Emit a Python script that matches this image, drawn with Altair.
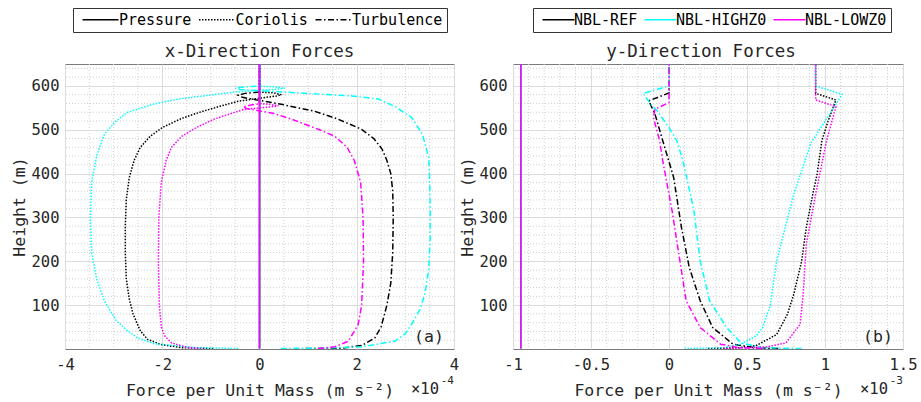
import altair as alt
import pandas as pd

FONT = "DejaVu Sans Mono"
TXT = "#262626"
MAJOR_COL = "#dcdcdc"
MINOR_COL = "#cfcfcf"
BOX = "#7a7a7a"

CASES = ["NBL-REF", "NBL-HIGHZ0", "NBL-LOWZ0"]
CASE_COLORS = ["#000000", "#00FFFF", "#FF00FF"]
FORCES = ["Pressure", "Coriolis", "Turbulence"]
FORCE_DASH = [[1, 0], [1.5, 1.5], [6, 2.5, 1.5, 2.5]]

# ---------- x-direction forces (units 1e-4 m s^-2) ----------
X_PRES_V = [0.0, 0.0]
X_PRES_Z = [1, 650]

X_COR_REF_V = [-0.95, -1.6, -2.02, -2.3, -2.45, -2.6, -2.68, -2.74, -2.76, -2.76, -2.74, -2.68, -2.58,
               -2.45, -2.25, -2.0, -1.6, -1.2, -0.8, -0.44, 0.0, 0.35, 0.45, 0.3, 0.0, 0.0]
X_COR_REF_Z = [1, 3, 10, 22, 41, 80, 115, 160, 220, 280, 340, 390, 430,
               460, 485, 505, 526, 541, 554, 565, 572, 577, 580, 584, 586, 650]
X_TURB_REF_V = [0.95, 1.69, 2.1, 2.37, 2.5, 2.62, 2.7, 2.74, 2.75, 2.74, 2.7, 2.62, 2.52,
                2.35, 2.1, 1.6, 1.14, 0.45, 0.0, -0.35, -0.44, -0.3, 0.0, 0.0]
X_TURB_REF_Z = [1, 2, 8, 25, 50, 100, 150, 220, 300, 360, 400, 430, 456,
                480, 501, 525, 542, 558, 567, 574, 579, 583, 586, 650]

X_COR_HIGH_V = [-0.44, -1.3, -2.16, -2.5, -2.71, -2.95, -3.19, -3.35, -3.45, -3.48, -3.45, -3.35, -3.19,
                -2.95, -2.71, -2.2, -1.68, -1.1, -0.51, 0.0, 0.4, 0.52, 0.3, 0.0, 0.0]
X_COR_HIGH_Z = [1, 3, 12, 25, 41, 65, 110, 160, 220, 300, 380, 440, 490,
                520, 540, 558, 570, 578, 586, 590, 593, 595, 598, 599.5, 650]
X_TURB_HIGH_V = [0.44, 1.3, 2.1, 2.79, 3.0, 3.13, 3.3, 3.4, 3.48, 3.51, 3.51, 3.5, 3.48,
                 3.35, 3.13, 2.8, 2.45, 1.9, 1.28, 0.52, 0.0, -0.4, -0.5, -0.3, 0.0, 0.0]
X_TURB_HIGH_Z = [1, 2, 5, 18, 35, 57, 90, 125, 180, 250, 320, 380, 437,
                 490, 528, 552, 570, 577, 581, 586, 589, 592, 595, 598, 599.5, 650]

X_COR_LOW_V = [-1.2, -1.5, -1.81, -1.95, -2.02, -2.06, -2.08, -2.07, -2.02, -1.92, -1.81,
               -1.6, -1.3, -0.92, -0.5, -0.34, 0.0, 0.3, 0.39, 0.2, 0.0, 0.0]
X_COR_LOW_Z = [1, 4, 14, 30, 50, 100, 200, 300, 380, 430, 460,
               485, 505, 525, 540, 546, 550, 553, 555, 558, 559.5, 650]
X_TURB_LOW_V = [1.2, 1.55, 1.83, 2.03, 2.1, 2.14, 2.13, 2.08, 1.95, 1.8, 1.55,
                1.28, 0.95, 0.66, 0.3, 0.0, -0.25, -0.34, -0.2, 0.0, 0.0]
X_TURB_LOW_Z = [1, 5, 18, 56, 100, 200, 300, 380, 430, 460, 485,
                498, 512, 524, 537, 543, 548, 552, 556, 559.5, 650]

# ---------- y-direction forces (units 1e-3 m s^-2) ----------
Y_PRES_V = [-0.95, -0.95]
Y_PRES_Z = [1, 650]

Y_COR_REF_V = [0.25, 0.45, 0.56, 0.69, 0.76, 0.8, 0.85, 0.88, 0.92, 0.95, 0.98, 1.02, 1.07, 0.94, 0.94]
Y_COR_REF_Z = [1, 3, 8, 33, 80, 125, 200, 277, 350, 400, 475, 520, 568, 583, 650]
Y_COR_HIGH_V = [0.1, 0.35, 0.46, 0.56, 0.6, 0.65, 0.69, 0.8, 0.91, 1.05, 1.11, 0.94, 0.94]
Y_COR_HIGH_Z = [1, 3, 11, 30, 49, 100, 201, 353, 470, 547, 581, 600, 650]
Y_COR_LOW_V = [0.35, 0.5, 0.63, 0.75, 0.84, 0.86, 0.88, 0.94, 1.01, 1.07, 0.94, 0.94]
Y_COR_LOW_Z = [1, 3, 5, 14, 56, 125, 239, 353, 475, 553, 568, 650]

Y_TURB_REF_V = [0.7, 0.55, 0.41, 0.28, 0.2, 0.13, 0.08, 0.03, -0.04, -0.09, -0.13, 0.0, 0.0]
Y_TURB_REF_Z = [1, 3, 11, 49, 110, 186, 277, 391, 475, 536, 566, 584, 650]
Y_TURB_HIGH_V = [0.85, 0.6, 0.46, 0.37, 0.26, 0.2, 0.16, 0.09, 0.05, 0.0, -0.08, -0.12, -0.165, 0.0, 0.0]
Y_TURB_HIGH_Z = [1, 3, 14, 49, 110, 201, 315, 429, 475, 505, 545, 559, 583, 600, 650]
Y_TURB_LOW_V = [0.6, 0.45, 0.33, 0.2, 0.11, 0.07, 0.02, -0.04, -0.06, -0.1, -0.09, 0.0, 0.0]
Y_TURB_LOW_Z = [1, 3, 11, 49, 110, 201, 315, 429, 475, 528, 547, 562, 650]

# ---------- axes ----------
Y_MAJOR = [100, 200, 300, 400, 500, 600]
Y_MINOR = [z for z in range(20, 650, 20) if z % 100]
XA_MAJOR = [-4, -2, 0, 2, 4]
XA_MINOR = [k * 0.5 for k in range(-8, 9) if k % 4]
XB_MAJOR = [-1, -0.5, 0, 0.5, 1, 1.5]
XB_MINOR = [round(k * 0.1, 1) for k in range(-10, 16) if k % 5]


def build(series):
    rows = []
    for case, force, vals, zs in series:
        for i, (v, z) in enumerate(zip(vals, zs)):
            rows.append({"case": case, "force": force, "val": v, "z": z, "idx": i})
    return pd.DataFrame(rows)


df_x = build([
    ("NBL-REF", "Pressure", X_PRES_V, X_PRES_Z),
    ("NBL-REF", "Coriolis", X_COR_REF_V, X_COR_REF_Z),
    ("NBL-REF", "Turbulence", X_TURB_REF_V, X_TURB_REF_Z),
    ("NBL-HIGHZ0", "Pressure", X_PRES_V, X_PRES_Z),
    ("NBL-HIGHZ0", "Coriolis", X_COR_HIGH_V, X_COR_HIGH_Z),
    ("NBL-HIGHZ0", "Turbulence", X_TURB_HIGH_V, X_TURB_HIGH_Z),
    ("NBL-LOWZ0", "Pressure", X_PRES_V, X_PRES_Z),
    ("NBL-LOWZ0", "Coriolis", X_COR_LOW_V, X_COR_LOW_Z),
    ("NBL-LOWZ0", "Turbulence", X_TURB_LOW_V, X_TURB_LOW_Z),
])
df_y = build([
    ("NBL-REF", "Pressure", Y_PRES_V, Y_PRES_Z),
    ("NBL-REF", "Coriolis", Y_COR_REF_V, Y_COR_REF_Z),
    ("NBL-REF", "Turbulence", Y_TURB_REF_V, Y_TURB_REF_Z),
    ("NBL-HIGHZ0", "Pressure", Y_PRES_V, Y_PRES_Z),
    ("NBL-HIGHZ0", "Coriolis", Y_COR_HIGH_V, Y_COR_HIGH_Z),
    ("NBL-HIGHZ0", "Turbulence", Y_TURB_HIGH_V, Y_TURB_HIGH_Z),
    ("NBL-LOWZ0", "Pressure", Y_PRES_V, Y_PRES_Z),
    ("NBL-LOWZ0", "Coriolis", Y_COR_LOW_V, Y_COR_LOW_Z),
    ("NBL-LOWZ0", "Turbulence", Y_TURB_LOW_V, Y_TURB_LOW_Z),
])

H = 285


def legend(lx, half, lo, cp):
    # long horizontal line symbol drawn from a custom path (scaled by sqrt(size)/2 = 2)
    return alt.Legend(orient="none", legendX=lx, legendY=-56, direction="horizontal", title=None,
                      symbolType=f"M-{half/2},0H{half/2}", symbolSize=16, symbolStrokeWidth=1.5,
                      symbolOffset=half - 2, symbolStrokeColor="black",
                      labelFont=FONT, labelFontSize=15, labelColor="black",
                      labelOffset=half - 11 + lo, columnPadding=cp, padding=4,
                      strokeColor="#333333", fillColor="white")


def panel(df, W, xdom, xmajor, xminor, title_text, title_x, exp_main, exp_sup, tag, which):
    xs = alt.Scale(domain=xdom, nice=False, zero=False)
    ys = alt.Scale(domain=[0, 650], nice=False, zero=False)
    xaxis = alt.Axis(values=xmajor, labelExpr="datum.value + ''",
                     title="Force per Unit Mass (m s⁻²)", grid=True,
                     gridColor=MAJOR_COL, ticks=False, tickSize=0, domain=False,
                     labelPadding=8, titlePadding=10, labelFlush=False, labelOverlap=False)
    yaxis = alt.Axis(values=Y_MAJOR, title="Height (m)", grid=True,
                     gridColor=MAJOR_COL, ticks=False, tickSize=0, domain=False,
                     labelPadding=6, titlePadding=4, labelFlush=False, labelOverlap=False)
    minor_y = alt.Chart(pd.DataFrame({"z": Y_MINOR})).mark_rule(
        color=MINOR_COL, strokeDash=[1, 2], strokeWidth=1).encode(
        y=alt.Y("z:Q", scale=ys, axis=yaxis))
    minor_x = alt.Chart(pd.DataFrame({"val": xminor})).mark_rule(
        color=MINOR_COL, strokeDash=[1, 2], strokeWidth=1).encode(
        x=alt.X("val:Q", scale=xs, axis=xaxis))
    if which == "dash":
        col_leg = None
        dash_leg = legend(8, 18, 4, 1.5)
    else:
        col_leg = legend(20, 16, 3, 1)
        dash_leg = None
    lines = alt.Chart(df).mark_line(strokeWidth=1.5, clip=True).encode(
        x=alt.X("val:Q", scale=xs, axis=xaxis),
        y=alt.Y("z:Q", scale=ys, axis=yaxis),
        color=alt.Color("case:N", scale=alt.Scale(domain=CASES, range=CASE_COLORS),
                        legend=col_leg),
        strokeDash=alt.StrokeDash("force:N", scale=alt.Scale(domain=FORCES, range=FORCE_DASH),
                                  legend=dash_leg),
        order=alt.Order("idx:Q"),
    )
    title = alt.Chart(pd.DataFrame({"t": [title_text]})).mark_text(
        font=FONT, fontSize=17.5, color=TXT, baseline="middle", align="center").encode(
        text="t:N", x=alt.value(title_x), y=alt.value(-12))
    expo = alt.Chart(pd.DataFrame({"t": [exp_main]})).mark_text(
        font=FONT, fontSize=15.5, color=TXT, baseline="middle", align="right").encode(
        text="t:N", x=alt.value(W - 15), y=alt.value(H + 40))
    expo2 = alt.Chart(pd.DataFrame({"t": [exp_sup]})).mark_text(
        font=FONT, fontSize=11, color=TXT, baseline="middle", align="right").encode(
        text="t:N", x=alt.value(W), y=alt.value(H + 32))
    tagm = alt.Chart(pd.DataFrame({"t": [tag]})).mark_text(
        font=FONT, fontSize=16.5, color=TXT, baseline="middle", align="center").encode(
        text="t:N", x=alt.value(W - 25), y=alt.value(H - 12))
    return alt.layer(minor_y, minor_x, lines, title, expo, expo2, tagm).properties(width=W, height=H)


left = panel(df_x, 389, [-4, 4], XA_MAJOR, XA_MINOR, "x-Direction Forces", 194.5,
             "×10", "-4", "(a)", "dash")
right = panel(df_y, 390, [-1, 1.5], XB_MAJOR, XB_MINOR, "y-Direction Forces", 188,
              "×10", "-3", "(b)", "color")

chart = alt.hconcat(left, right, spacing=-2).resolve_scale(
    color="independent", strokeDash="independent").resolve_legend(
    color="independent", strokeDash="independent").configure(
    padding={"left": 10, "top": 7, "right": 0, "bottom": 0}, background="white").configure_view(
    stroke=BOX, strokeWidth=1).configure_axis(
    labelFont=FONT, titleFont=FONT, labelFontSize=15.5, titleFontSize=16.5,
    labelColor=TXT, titleColor=TXT, titleFontWeight="normal")

chart.save("out.html", embed_options={"renderer": "svg", "actions": False})
